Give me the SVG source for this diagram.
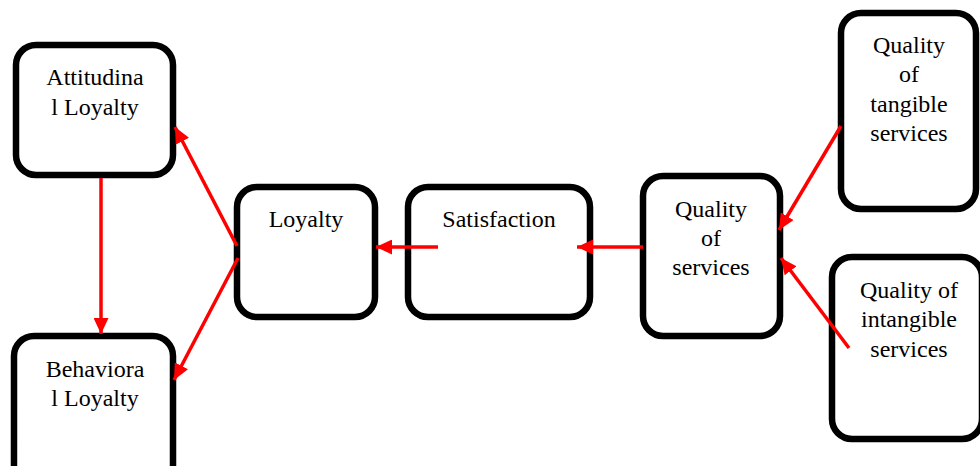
<svg xmlns="http://www.w3.org/2000/svg" width="980" height="466" viewBox="0 0 980 466">
<defs>
<style>
.box{fill:#fff;stroke:#000;stroke-width:6.5}
.lbl{font-family:"Liberation Serif","Times New Roman",serif;font-size:24px;fill:#000;text-anchor:middle}
.conn{stroke:#ff0000;stroke-width:3.5;fill:none;marker-end:url(#ah)}
</style>
<marker id="ah" markerUnits="userSpaceOnUse" markerWidth="16" markerHeight="15" refX="16" refY="7.5" orient="auto">
<path d="M0,0 L16,7.5 L0,15 z" fill="#ff0000"/>
</marker>
</defs>
<rect width="980" height="466" fill="#fff"/>
<g id="attitudinal">
<rect class="box" x="16" y="45" width="157" height="130" rx="20"/>
<text class="lbl" x="95" y="85">Attitudina</text>
<text class="lbl" x="95" y="115">l Loyalty</text>
</g>
<g id="behavioral">
<rect class="box" x="14" y="336" width="159" height="150" rx="20"/>
<text class="lbl" x="95" y="377">Behaviora</text>
<text class="lbl" x="95" y="406">l Loyalty</text>
</g>
<g id="loyalty">
<rect class="box" x="237" y="187" width="138" height="130" rx="20"/>
<text class="lbl" x="306" y="227">Loyalty</text>
</g>
<g id="satisfaction">
<rect class="box" x="408" y="187" width="182" height="130" rx="20"/>
<text class="lbl" x="499" y="227">Satisfaction</text>
</g>
<g id="quality-services">
<rect class="box" x="643" y="176" width="137" height="160" rx="20"/>
<text class="lbl" x="711" y="217">Quality</text>
<text class="lbl" x="711" y="246">of</text>
<text class="lbl" x="711" y="275">services</text>
</g>
<g id="quality-tangible">
<rect class="box" x="841" y="13" width="135" height="196" rx="20"/>
<text class="lbl" x="909" y="53">Quality</text>
<text class="lbl" x="909" y="82">of</text>
<text class="lbl" x="909" y="112">tangible</text>
<text class="lbl" x="909" y="141">services</text>
</g>
<g id="quality-intangible">
<rect class="box" x="832" y="257" width="150" height="182" rx="20"/>
<text class="lbl" x="909" y="298">Quality of</text>
<text class="lbl" x="909" y="327">intangible</text>
<text class="lbl" x="909" y="357">services</text>
</g>
<g id="connectors">
<line class="conn" x1="101" y1="178" x2="101" y2="334"/>
<line class="conn" x1="237" y1="246" x2="175" y2="127"/>
<line class="conn" x1="238" y1="258" x2="174" y2="380"/>
<line class="conn" x1="438" y1="247" x2="376" y2="247"/>
<line class="conn" x1="643" y1="247" x2="577" y2="247"/>
<line class="conn" x1="841" y1="126" x2="779" y2="230"/>
<line class="conn" x1="849" y1="348" x2="781" y2="258"/>
</g>
</svg>
